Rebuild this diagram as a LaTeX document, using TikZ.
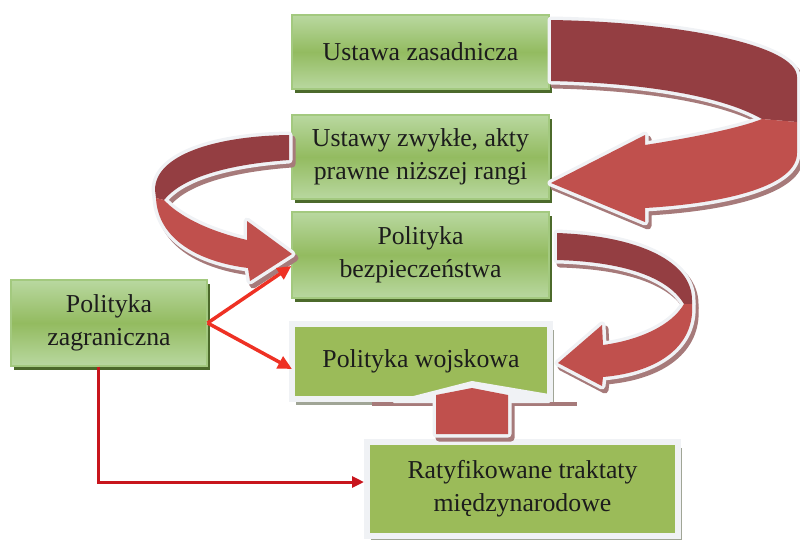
\documentclass[tikz,border=0pt]{standalone}
\usepackage{fontspec}
\setmainfont{Liberation Serif}
\usetikzlibrary{arrows.meta,shadows}
\definecolor{gtop}{HTML}{B9D8A0}
\definecolor{gmid}{HTML}{93BB60}
\definecolor{gline}{HTML}{A3C97F}
\definecolor{gshadow}{HTML}{4C6A2B}
\definecolor{gflat}{HTML}{9BBB59}
\definecolor{framec}{HTML}{F0F2F5}
\definecolor{fshadow}{HTML}{A0A596}
\definecolor{rdark}{HTML}{943E42}
\definecolor{rlight}{HTML}{C0504D}
\definecolor{rshadow}{HTML}{A67A7A}
\definecolor{redA}{HTML}{EE3124}
\definecolor{redB}{HTML}{C8151D}
\definecolor{txt}{HTML}{1C1C1C}
\tikzset{
 boxtext/.style={align=center, text=txt, font=\fontsize{25.8}{33}\selectfont, inner sep=2pt},
 gbox/.style={boxtext, draw=gline, line width=1.2pt, top color=gtop, bottom color=gtop, middle color=gmid,
   drop shadow={shadow xshift=3pt, shadow yshift=-4pt, fill=gshadow, opacity=1}},
 fbox/.style={boxtext, draw=framec, line width=6pt, fill=gflat,
   drop shadow={shadow xshift=4pt, shadow yshift=-6pt, fill=fshadow, opacity=1}},
 ribdark/.style={fill=rdark},
 riblight/.style={fill=rlight},
 ribline/.style={draw=framec, line width=7pt, line join=round},
 ribshade/.style={draw=rshadow, fill=rshadow, line width=7pt, line join=round},
 thinarrow/.style={draw=redA, line width=3.5pt, -{Triangle[length=14pt,width=13pt]}},
 elbowarrow/.style={draw=redB, line width=3pt, -{Triangle[length=12pt,width=11pt]}},
}
\def\rAd{(551,20) .. controls (680,22) and (797,45) .. (797,77) -- (797,122) -- (762,119) .. controls (720,95) and (640,83) .. (551,81) -- cycle}
\def\rAl{(762,119) -- (797,122) -- (797,153) .. controls (797,185) and (730,203) .. (645,208) -- (645,222) -- (551,183) -- (645,135) -- (645,145) .. controls (690,138) and (740,128) .. (762,119) -- cycle}
\def\rBd{(289,135) .. controls (215,136) and (155,155) .. (155,190) -- (156,198) -- (164,200) .. controls (180,180) and (220,165) .. (289,160) -- cycle}
\def\rBl{(156,198) .. controls (158,240) and (200,262) .. (248,268) -- (250,281) -- (292,254) -- (247,221) -- (247,240) .. controls (205,230) and (178,215) .. (164,200) -- cycle}
\def\rCd{(557,233) .. controls (640,236) and (692,262) .. (692,300) -- (692,304) -- (684,304) .. controls (670,280) and (630,262) .. (557,260) -- cycle}
\def\rCl{(684,304) -- (692,304) .. controls (695,345) and (660,372) .. (603,377) -- (602,386) -- (558,363) -- (602,325) -- (603,345) .. controls (640,340) and (672,325) .. (684,304) -- cycle}
\def\rUshaft{(436,434) -- (436,395) -- (472,388) -- (508,395) -- (508,434) -- cycle}
\def\rUhead{(394,402) -- (472,382) -- (549,395) -- (549,402) -- cycle}
\begin{document}
\begin{tikzpicture}[x=1pt,y=-1pt]
\useasboundingbox (0,0) rectangle (800,539);
% boxes
\node[gbox, minimum width=257pt, minimum height=74pt] (b1) at (420.5,52) {Ustawa zasadnicza};
\node[gbox, minimum width=257pt, minimum height=84pt] (b2) at (420.5,157) {Ustawy zwykłe, akty\\prawne niższej rangi};
\node[gbox, minimum width=257pt, minimum height=86pt] (b3) at (420.5,255) {Polityka\\bezpieczeństwa};
\node[fbox, minimum width=258pt, minimum height=75pt] (b4) at (421,361.5) {Polityka wojskowa};
\node[gbox, minimum width=196pt, minimum height=86pt] (b5) at (109,323) {Polityka\\zagraniczna};
\node[fbox, minimum width=311pt, minimum height=94pt] (b6) at (522.5,488.5) {Ratyfikowane traktaty\\międzynarodowe};
% ribbon arrows: shadows
\begin{scope}[shift={(3,4)}]
\path[ribshade] \rAd; \path[ribshade] \rAl;
\path[ribshade] \rBd; \path[ribshade] \rBl;
\path[ribshade] \rCd; \path[ribshade] \rCl;
\path[ribshade] \rUshaft;
\end{scope}
\fill[rshadow] (372,402) -- (577,402) -- (577,406) -- (372,406) -- cycle;
% outlines
\path[ribline] \rAd; \path[ribline] \rAl;
\path[ribline] \rBd; \path[ribline] \rBl;
\path[ribline] \rCd; \path[ribline] \rCl;
\path[ribline] \rUshaft;
\path[fill=framec, draw=framec, line width=2pt, line join=round] \rUhead;
% fills
\path[ribdark] \rAd; \path[riblight] \rAl;
\path[ribdark] \rBd; \path[riblight] \rBl;
\path[ribdark] \rCd; \path[riblight] \rCl;
\path[riblight] \rUshaft;
% connectors
\draw[thinarrow] (b5.east) -- ([yshift=-11pt]b3.west);
\draw[thinarrow] (b5.east) -- ([xshift=3pt,yshift=-7.5pt]b4.west);
\draw[elbowarrow] ([xshift=-11pt]b5.south) |- ([yshift=6.5pt]b6.west);
\end{tikzpicture}
\end{document}
